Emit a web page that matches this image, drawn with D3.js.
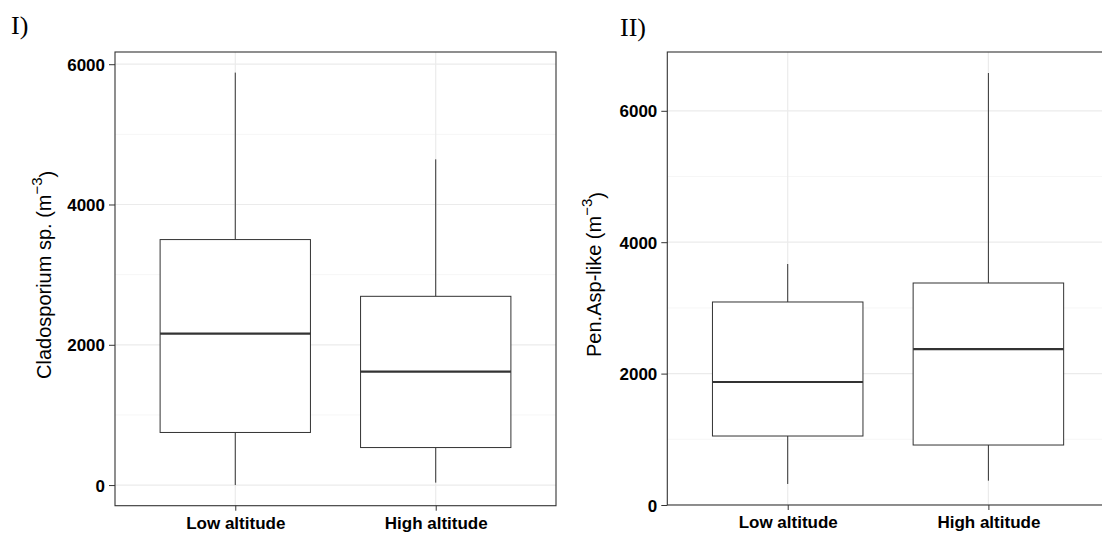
<!DOCTYPE html>
<html>
  <head>
    <script src="https://d3js.org/d3.v7.min.js"></script>
    <style>
      body { margin: 0; background: #fff; }
      .tick text { font-family: "Liberation Sans", Arial, sans-serif; font-weight: bold; font-size: 17px; fill: #000; }
      .tick line { stroke: #333; }
      .domain { display: none; }
      .ytitle { font-family: "Liberation Sans", Arial, sans-serif; font-size: 20px; fill: #000; }
      .plabel { font-family: "Liberation Serif", "Times New Roman", serif; font-size: 26px; fill: #000; }
    </style>
  </head>
  <body>
    <svg width="1102" height="536"></svg>
    <script>
      // five-number summaries: [lower whisker, Q1, median, Q3, upper whisker]
      const groups = ["Low altitude", "High altitude"];
      const cladosporium = [[0, 750, 2160, 3500, 5880], [35, 535, 1617, 2691, 4644]];
      const penAsp = [[320, 1050, 1872, 3090, 3668], [370, 913, 2374, 3379, 6575]];
      const majorTicks = [0, 2000, 4000, 6000];
      const minorTicks = [1000, 3000, 5000];

      const svg = d3.select("svg");

      function boxPanel(props) {
        const { x0, x1, y0, y1, yDomain, stats, label, labelX, labelY, title, titleX } = props;
        const g = svg.append("g");

        const x = d3.scalePoint().domain(groups).range([x0, x1]).padding(0.6);
        const y = d3.scaleLinear().domain(yDomain).range([y1, y0]);
        const bw = x.step() * 0.75;

        g.append("defs").append("clipPath").attr("id", "clip" + labelX)
          .append("rect").attr("x", x0).attr("y", y0).attr("width", x1 - x0).attr("height", y1 - y0);
        const inner = g.append("g").attr("clip-path", `url(#clip${labelX})`);

        inner.selectAll(".minor").data(minorTicks).join("line")
          .attr("x1", x0).attr("x2", x1).attr("y1", d => y(d)).attr("y2", d => y(d))
          .attr("stroke", "#f4f4f4").attr("stroke-width", 0.8);
        inner.selectAll(".major").data(majorTicks).join("line")
          .attr("x1", x0).attr("x2", x1).attr("y1", d => y(d)).attr("y2", d => y(d))
          .attr("stroke", "#ebebeb").attr("stroke-width", 1.2);
        inner.selectAll(".vgrid").data(groups).join("line")
          .attr("x1", d => x(d)).attr("x2", d => x(d)).attr("y1", y0).attr("y2", y1)
          .attr("stroke", "#ebebeb").attr("stroke-width", 1.2);

        const box = inner.selectAll(".box").data(stats).join("g");
        box.append("line")
          .attr("x1", (d, i) => x(groups[i])).attr("x2", (d, i) => x(groups[i]))
          .attr("y1", d => y(d[0])).attr("y2", d => y(d[1]))
          .attr("stroke", "#333").attr("stroke-width", 1);
        box.append("line")
          .attr("x1", (d, i) => x(groups[i])).attr("x2", (d, i) => x(groups[i]))
          .attr("y1", d => y(d[3])).attr("y2", d => y(d[4]))
          .attr("stroke", "#333").attr("stroke-width", 1);
        box.append("rect")
          .attr("x", (d, i) => x(groups[i]) - bw / 2).attr("width", bw)
          .attr("y", d => y(d[3])).attr("height", d => y(d[1]) - y(d[3]))
          .attr("fill", "#fff").attr("stroke", "#333").attr("stroke-width", 1);
        box.append("line")
          .attr("x1", (d, i) => x(groups[i]) - bw / 2).attr("x2", (d, i) => x(groups[i]) + bw / 2)
          .attr("y1", d => y(d[2])).attr("y2", d => y(d[2]))
          .attr("stroke", "#333").attr("stroke-width", 2.2);

        g.append("rect").attr("x", x0).attr("y", y0).attr("width", x1 - x0).attr("height", y1 - y0)
          .attr("fill", "none").attr("stroke", "#333").attr("stroke-width", 1.1);

        g.append("g").attr("transform", `translate(${x0},0)`)
          .call(d3.axisLeft(y).tickValues(majorTicks).tickFormat(d3.format("d")).tickSize(6).tickPadding(4))
          .selectAll("text").attr("dy", "0.36em");
        g.append("g").attr("transform", `translate(0,${y1})`)
          .call(d3.axisBottom(x).tickSize(5).tickPadding(6));

        g.append("text").attr("class", "ytitle")
          .attr("transform", `translate(${titleX},${(y0 + y1) / 2 - 4}) rotate(-90)`)
          .attr("text-anchor", "middle")
          .call(t => {
            t.append("tspan").text(title + " (m");
            t.append("tspan").attr("dy", "-0.6em").attr("font-size", "15px").text("\u22123");
            t.append("tspan").attr("dy", "0.6em").text(")");
          });

        g.append("text").attr("class", "plabel").attr("x", labelX).attr("y", labelY).text(label);
      }

      boxPanel({
        x0: 115, x1: 556, y0: 52, y1: 505.7, yDomain: [-294, 6174],
        stats: cladosporium, label: "I)", labelX: 11, labelY: 34,
        title: "Cladosporium sp.", titleX: 51
      });
      boxPanel({
        x0: 667.3, x1: 1108.8, y0: 52, y1: 505, yDomain: [0, 6895],
        stats: penAsp, label: "II)", labelX: 620, labelY: 36,
        title: "Pen.Asp-like", titleX: 601
      });
    </script>
  </body>
</html>
